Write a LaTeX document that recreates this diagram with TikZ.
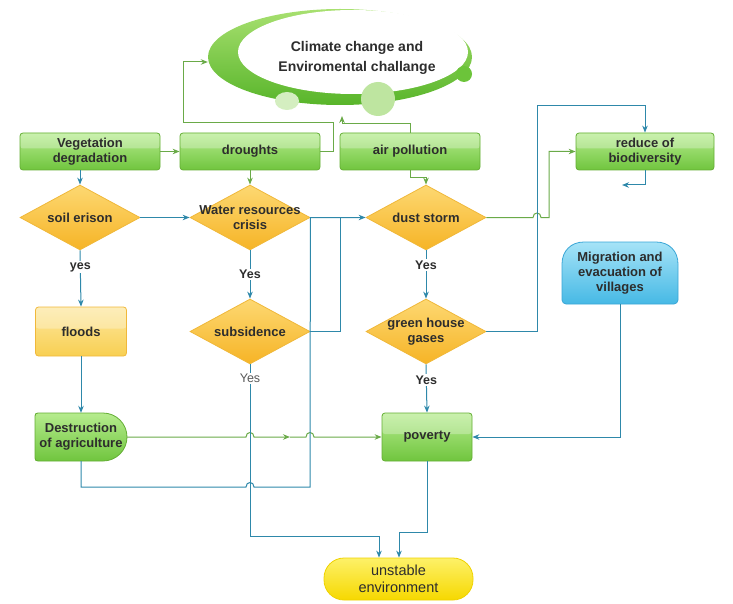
\documentclass[tikz,border=0pt]{standalone}
\usepackage{fontspec}
\setmainfont{Liberation Sans}
\usetikzlibrary{shapes.geometric,arrows.meta,calc}
\definecolor{gtop}{HTML}{B6EC8E}
\definecolor{gbot}{HTML}{70C53E}
\definecolor{gborder}{HTML}{64AE34}
\definecolor{etop}{HTML}{A8E070}
\definecolor{ebot}{HTML}{58B52A}
\definecolor{ytop}{HTML}{FDD872}
\definecolor{ybot}{HTML}{F6B426}
\definecolor{yborder}{HTML}{F0B83A}
\definecolor{ftop}{HTML}{FDE8A0}
\definecolor{fbot}{HTML}{F8CF52}
\definecolor{btop}{HTML}{A6E3F7}
\definecolor{bbot}{HTML}{46B9E5}
\definecolor{bborder}{HTML}{3AA6D6}
\definecolor{utop}{HTML}{FDF168}
\definecolor{ubot}{HTML}{F6D800}
\definecolor{uborder}{HTML}{EFD200}
\definecolor{bline}{HTML}{2E88AA}
\definecolor{gline}{HTML}{6AAA48}
\definecolor{txt}{HTML}{2D2D2D}
\begin{document}
\begin{tikzpicture}[x=1pt,y=-1pt,
  bfont/.style={font=\bfseries\fontsize{13}{15}\selectfont, text=txt},
  gloss/.style={path picture={\fill[white,opacity=0.28] (path picture bounding box.north west) rectangle ([yshift=3pt]path picture bounding box.east);}},
  gbox/.style={rectangle, rounded corners=3pt, draw=gborder, line width=0.8pt,
    top color=gtop, bottom color=gbot, bfont, align=center, inner sep=0pt,
    minimum width=140pt, minimum height=37pt, gloss},
  ydia/.style={diamond, draw=yborder, line width=0.8pt, top color=ytop,
    bottom color=ybot, inner sep=0pt, minimum width=120pt, minimum height=65pt},
  dtext/.style={bfont, align=center, inner sep=0pt},
  lab/.style={fill=white, inner sep=1.5pt, font=\bfseries\fontsize{12.5}{14}\selectfont, text=txt},
  labg/.style={fill=white, inner sep=1.5pt, font=\fontsize{12.5}{14}\selectfont, text=black!65},
  bl/.style={draw=bline, line width=1pt},
  gl/.style={draw=gline, line width=1pt},
  arr/.style={-{Stealth[length=7pt,width=5.5pt]}}
]
\useasboundingbox (0,0) rectangle (733,604);

% ---- climate ellipse ----
\node[ellipse, minimum width=264pt, minimum height=96pt, inner sep=0pt,
  top color=etop, bottom color=ebot, draw=none] (clim) at (340,57) {};
\fill[white] (353,52) ellipse [x radius=115pt, y radius=42pt];
\fill[color={rgb,255:red,212;green,238;blue,192}] (287,101) ellipse [x radius=12pt, y radius=9pt];
\fill[color={rgb,255:red,190;green,229;blue,160}] (378,99) circle [radius=17pt];
\fill[color={rgb,255:red,108;green,196;blue,58}] (464,74) circle [radius=8pt];
\node[font=\bfseries\fontsize{14}{20}\selectfont, text=txt, align=center] (climtext) at (357,58)
  {Climate change and\\Enviromental challange};

% ---- top row ----
\node[gbox] (veg) at (90,151.5) {Vegetation\\degradation};
\node[gbox] (dro) at (250,151.5) {droughts};
\node[gbox] (air) at (410,151.5) {air pollution};
\node[gbox, minimum width=138pt] (red) at (645,151.5) {reduce of\\biodiversity};

% ---- diamonds ----
\node[ydia, label={[dtext]center:soil erison}] (soil) at (80,217.5) {};
\node[ydia, label={[dtext]center:Water resources\\crisis}] (wat) at (250,217.5) {};
\node[ydia, label={[dtext]center:dust storm}] (dust) at (426,217.5) {};
\node[ydia, label={[dtext]center:subsidence}] (sub) at (250,331.5) {};
\node[ydia, label={[dtext]center:green house\\gases}] (ghg) at (426,331.5) {};

% ---- floods ----
\node[rectangle, rounded corners=3pt, draw=yborder, line width=0.8pt, top color=ftop,
  bottom color=fbot, bfont, inner sep=0pt, minimum width=91pt, minimum height=49pt, gloss] (flo) at (81,331.5) {floods};

% ---- destruction of agriculture ----
\path[draw=gborder, line width=0.8pt, top color=gtop, bottom color=gbot]
  (38,413) -- (103,413) arc[start angle=90, end angle=-90, radius=24pt] -- (38,461)
  .. controls (36,461) and (35,460) .. (35,458) -- (35,416) .. controls (35,414) and (36,413) .. (38,413) -- cycle;
\node[bfont, align=center, inner sep=0pt, minimum width=92pt, minimum height=48pt] (des) at (81,437)
  {Destruction\\of agriculture};

% ---- poverty ----
\node[gbox, minimum width=90pt, minimum height=48pt] (pov) at (427,437) {poverty};

% ---- migration ----
\path[draw=bborder, line width=0.8pt, top color=btop, bottom color=bbot]
  (562,300) -- (562,264) .. controls (562,251) and (571,242) .. (584,242) -- (656,242)
  .. controls (669,242) and (678,251) .. (678,264) -- (678,300)
  .. controls (678,302) and (676,304) .. (674,304) -- (566,304)
  .. controls (564,304) and (562,302) .. (562,300) -- cycle;
\node[bfont, align=center, inner sep=0pt, minimum width=116pt, minimum height=62pt] (mig) at (620,273)
  {Migration and\\evacuation of\\villages};

% ---- unstable environment ----
\node[rectangle, rounded corners=20pt, draw=uborder, line width=0.8pt, top color=utop,
  bottom color=ubot, font=\fontsize{14.5}{17}\selectfont, text=txt, align=center, inner sep=0pt,
  minimum width=149pt, minimum height=42pt] (uns) at (398.5,579) {unstable\\environment};

% ---- coordinates ----
\coordinate (c1) at (183,62);
\coordinate (cu) at (342,116);
\coordinate (cfree) at (622,185);
\coordinate (m1) at (290,437);
\coordinate (u1) at (379,536);
\coordinate (u2) at (399,532);

% ---- green connectors ----
\draw[gl,arr] (veg) -- (dro);
\draw[gl,arr] (dro.east) -- (333,151.5) -- (333,123) -- (183,123) -- (c1) -- (clim.west |- c1);
\draw[gl,arr] (air.north) -- (410,124) -- (342,124) -- (cu);
\draw[gl,arr] (air.south) -- (410,178) -| (dust.north);
\draw[gl,arr] (dro) -- (wat);
\draw[gl,arr] (dust.east) -- (533,217.5) .. controls (533,211.5) and (541,211.5) .. (541,217.5)
  -- (549,217.5) |- (red.west);
\draw[gl,arr] (des.east) -- (246,437) .. controls (246,431) and (254,431) .. (254,437) -- (m1);
\draw[gl,arr] (m1) -- (306,437) .. controls (306,431) and (314,431) .. (314,437) -- (pov.west);

% ---- blue connectors ----
\draw[bl,arr] (veg.south -| soil.north) -- (soil.north);
\draw[bl,arr] (soil) -- (wat);
\draw[bl,arr] (des.south) |- (246,487) .. controls (246,481) and (254,481) .. (254,487)
  -- (310,487) -- (wat.east) -- (dust.west);
\draw[bl] (sub.east) -- (340,331.5) -- (340,217.5);
\draw[bl,arr] (wat.south) -- node[lab]{Yes} (sub.north);
\draw[bl,arr] (sub.south) -- node[labg,pos=0.082]{Yes} (u1 -| sub.south) -- (u1) -- (u1 |- uns.north);
\draw[bl,arr] (dust.south) -- node[lab,pos=0.3]{Yes} (ghg.north);
\draw[bl,arr] (ghg.east) -- (537,331.5) -- (537,106) -| (red.north);
\draw[bl,arr] (red.south) |- (cfree);
\draw[bl,arr] (ghg.south) -- node[lab,pos=0.32]{Yes} (pov.north);
\draw[bl,arr] (mig.south) |- (pov.east);
\draw[bl,arr] (pov.south) |- (u2) -- (u2 |- uns.north);
\draw[bl,arr] (soil.south) -- node[lab,pos=0.3]{yes} (flo.north);
\draw[bl,arr] (flo) -- (des);
\end{tikzpicture}
\end{document}
